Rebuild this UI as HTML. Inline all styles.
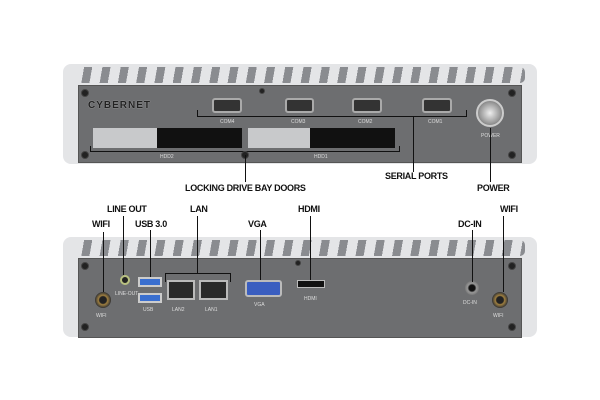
<!DOCTYPE html><html><head><style>
body{margin:0;width:600px;height:400px;background:#fff;position:relative;overflow:hidden;font-family:"Liberation Sans",sans-serif}
div{position:absolute;box-sizing:border-box}
.ch{background:#e4e5e7;border-radius:8px}
.fin{background:repeating-linear-gradient(100deg,#e4e5e7 0 9px,#8a8c90 9px 17px,#e4e5e7 17px 18px)}
.pn{background:#6d6e70;border:1px solid #555}
.sc{width:8px;height:8px;border-radius:50%;background:#222;border:1px solid #444}
.com{background:#333;border-radius:3px;border:2px solid #aaa}
.lb{color:#ddd;font-size:5px}
.t{font-weight:bold;font-size:9px;color:#111;letter-spacing:-.3px}
.ln{background:#111}
.br{border:1px solid #111}
</style></head><body>
<!-- top unit -->
<div class="ch" style="left:63px;top:64px;width:474px;height:100px"></div>
<div class="fin" style="left:75px;top:67px;width:450px;height:16px;border-radius:5px"></div>
<div class="pn" style="left:78px;top:85px;width:444px;height:78px"></div>
<div class="sc" style="left:81px;top:89px"></div><div class="sc" style="left:508px;top:89px"></div>
<div class="sc" style="left:81px;top:151px"></div><div class="sc" style="left:508px;top:151px"></div>
<div class="sc" style="left:259px;top:88px;width:6px;height:6px"></div>
<div style="left:88px;top:100px;font-size:10px;font-weight:bold;color:#222;letter-spacing:1px;text-shadow:0 0 1px #ccc">CYBERNET</div>
<div class="com" style="left:212px;top:98px;width:30px;height:15px"></div>
<div class="com" style="left:285px;top:98px;width:29px;height:15px"></div>
<div class="com" style="left:352px;top:98px;width:30px;height:15px"></div>
<div class="com" style="left:422px;top:98px;width:30px;height:15px"></div>
<div style="left:197px;top:110px;width:270px;height:7px;border:1px solid #111;border-top:none"></div>
<div class="lb" style="left:220px;top:119px">COM4</div><div class="lb" style="left:291px;top:119px">COM3</div>
<div class="lb" style="left:358px;top:119px">COM2</div><div class="lb" style="left:428px;top:119px">COM1</div>
<div style="left:93px;top:128px;width:149px;height:20px;background:#111"></div>
<div style="left:93px;top:128px;width:64px;height:20px;background:#c8c9cb"></div>
<div style="left:248px;top:128px;width:147px;height:20px;background:#111"></div>
<div style="left:248px;top:128px;width:62px;height:20px;background:#c8c9cb"></div>
<div style="left:90px;top:146px;width:310px;height:6px;border:1px solid #111;border-top:none"></div>
<div class="lb" style="left:160px;top:154px">HDD2</div><div class="lb" style="left:314px;top:154px">HDD1</div>
<div class="sc" style="left:241px;top:151px"></div>
<div style="left:476px;top:99px;width:28px;height:28px;border-radius:50%;background:radial-gradient(#eee,#999 60%,#555);border:2px solid #ccc"></div>
<div class="lb" style="left:481px;top:133px">POWER</div>
<div class="ln" style="left:245px;top:155px;width:1px;height:27px"></div>
<div class="ln" style="left:413px;top:117px;width:1px;height:55px"></div>
<div class="ln" style="left:490px;top:128px;width:1px;height:54px"></div>
<div class="t" style="left:185px;top:183px">LOCKING DRIVE BAY DOORS</div>
<div class="t" style="left:385px;top:171px">SERIAL PORTS</div>
<div class="t" style="left:477px;top:183px">POWER</div>
<!-- bottom unit -->
<div class="ch" style="left:63px;top:237px;width:474px;height:100px"></div>
<div class="fin" style="left:75px;top:240px;width:450px;height:16px;border-radius:5px"></div>
<div class="pn" style="left:78px;top:258px;width:444px;height:80px"></div>
<div class="sc" style="left:81px;top:262px"></div><div class="sc" style="left:508px;top:262px"></div>
<div class="sc" style="left:81px;top:323px"></div><div class="sc" style="left:508px;top:323px"></div>
<div class="sc" style="left:295px;top:260px;width:6px;height:6px"></div>
<div style="left:95px;top:292px;width:16px;height:16px;border-radius:50%;background:radial-gradient(#222 30%,#a08040 40%,#333 70%)"></div>
<div style="left:492px;top:292px;width:16px;height:16px;border-radius:50%;background:radial-gradient(#222 30%,#a08040 40%,#333 70%)"></div>
<div style="left:120px;top:275px;width:10px;height:10px;border-radius:50%;background:#222;border:2px solid #b8c080"></div>
<div style="left:138px;top:277px;width:24px;height:10px;background:#3a6fd0;border:2px solid #ccc"></div>
<div style="left:138px;top:293px;width:24px;height:10px;background:#3a6fd0;border:2px solid #ccc"></div>
<div style="left:167px;top:280px;width:28px;height:20px;background:#2a2a2a;border:2px solid #bbb"></div>
<div style="left:199px;top:280px;width:29px;height:20px;background:#2a2a2a;border:2px solid #bbb"></div>
<div style="left:245px;top:280px;width:37px;height:17px;background:#3a5ec0;border:2px solid #bbb;border-radius:3px"></div>
<div style="left:297px;top:280px;width:28px;height:8px;background:#111;border:1px solid #bbb"></div>
<div style="left:465px;top:281px;width:14px;height:14px;border-radius:50%;background:radial-gradient(#111 30%,#999 45%,#555)"></div>
<div class="lb" style="left:96px;top:313px">WIFI</div><div class="lb" style="left:115px;top:291px">LINE-OUT</div>
<div class="lb" style="left:143px;top:307px">USB</div><div class="lb" style="left:172px;top:307px">LAN2</div>
<div class="lb" style="left:205px;top:307px">LAN1</div><div class="lb" style="left:254px;top:302px">VGA</div>
<div class="lb" style="left:304px;top:296px">HDMI</div><div class="lb" style="left:463px;top:300px">DC-IN</div>
<div class="lb" style="left:493px;top:313px">WIFI</div>
<div class="ln" style="left:103px;top:232px;width:1px;height:60px"></div>
<div class="ln" style="left:123px;top:216px;width:1px;height:59px"></div>
<div class="ln" style="left:150px;top:230px;width:1px;height:47px"></div>
<div style="left:165px;top:273px;width:66px;height:9px;border:1px solid #111;border-bottom:none"></div>
<div class="ln" style="left:197px;top:216px;width:1px;height:57px"></div>
<div class="ln" style="left:260px;top:230px;width:1px;height:50px"></div>
<div class="ln" style="left:310px;top:216px;width:1px;height:64px"></div>
<div class="ln" style="left:472px;top:230px;width:1px;height:52px"></div>
<div class="ln" style="left:503px;top:216px;width:1px;height:76px"></div>
<div class="t" style="left:92px;top:219px">WIFI</div>
<div class="t" style="left:107px;top:204px">LINE OUT</div>
<div class="t" style="left:135px;top:219px">USB 3.0</div>
<div class="t" style="left:190px;top:204px">LAN</div>
<div class="t" style="left:248px;top:219px">VGA</div>
<div class="t" style="left:298px;top:204px">HDMI</div>
<div class="t" style="left:458px;top:219px">DC-IN</div>
<div class="t" style="left:500px;top:204px">WIFI</div>
</body></html>
